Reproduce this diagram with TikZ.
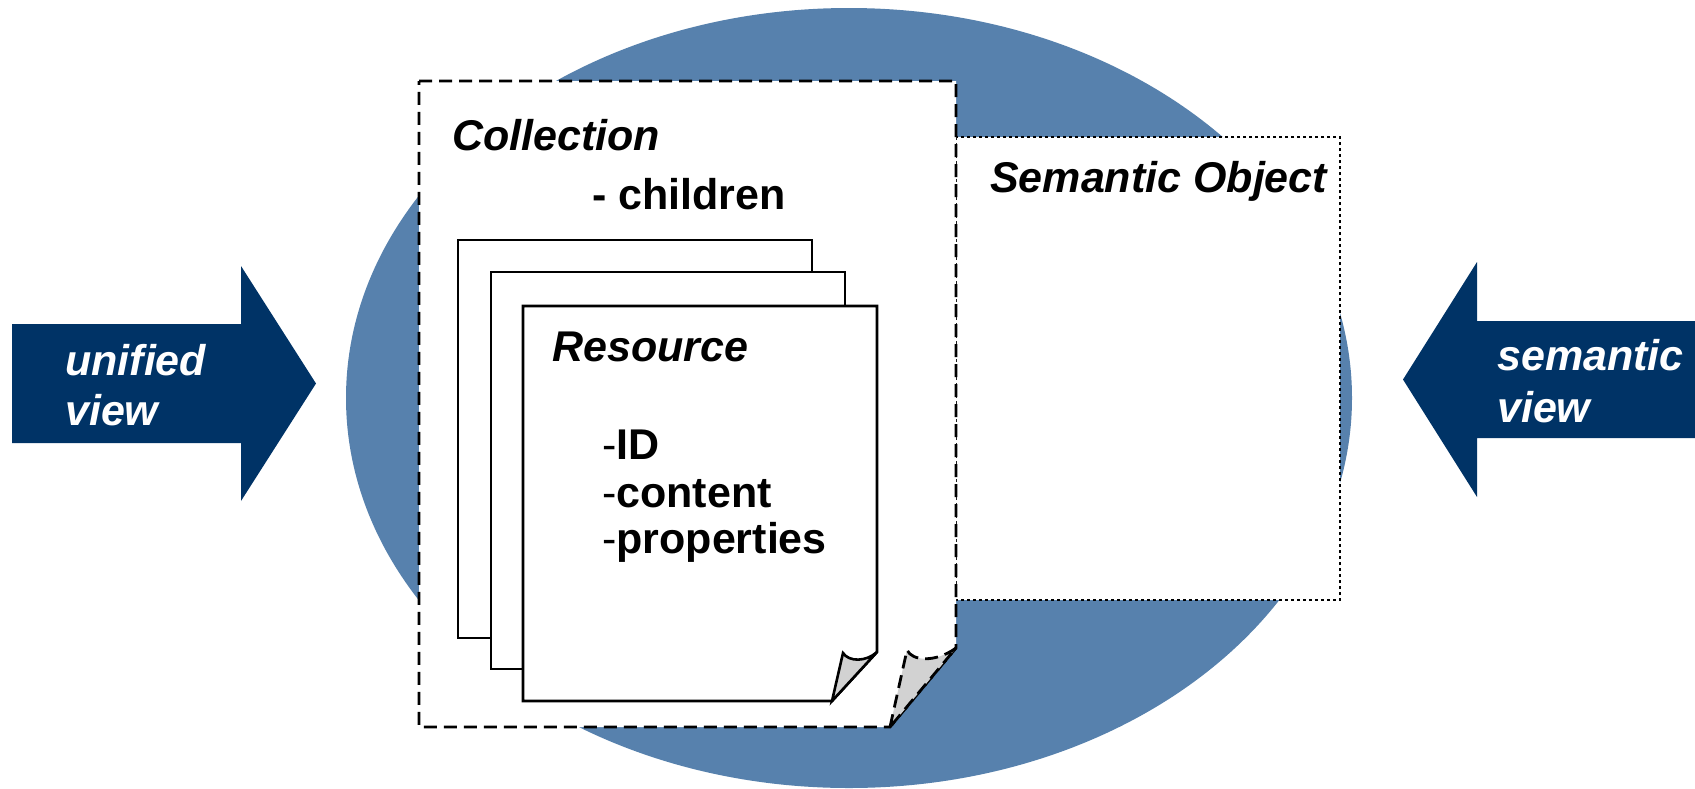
\documentclass[tikz,border=0pt]{standalone}
\usepackage{fontspec}
\setmainfont{Liberation Sans}

\definecolor{ovalblue}{RGB}{87,129,173}
\definecolor{navyblue}{RGB}{0,51,102}
\definecolor{flapgray}{RGB}{210,210,210}

\tikzset{
  title/.style={font=\fontsize{43}{48}\selectfont\bfseries\itshape, inner sep=0pt, anchor=base west},
  attr/.style={font=\fontsize{43}{48}\selectfont\bfseries, inner sep=0pt, anchor=base west},
  viewlabel/.style={title, text=white},
  dashedline/.style={line width=2.8pt, dash pattern=on 13pt off 7pt},
  dottedline/.style={line width=2.8pt, dash pattern=on 3pt off 3pt},
  sheet/.style={draw=black, line width=2.6pt, fill=white, line join=miter},
  bigarrow/.style={fill=navyblue, draw=none},
}

\begin{document}
\begin{tikzpicture}[x=1pt,y=-1pt]
  \useasboundingbox (0,0) rectangle (1695,788);

  % background oval
  \fill[ovalblue] (849,398) ellipse [x radius=503, y radius=390];

  % view arrows
  \fill[bigarrow] (12,324) -- (241,324) -- (241,266) -- (316,383.5)
        -- (241,501) -- (241,443) -- (12,443) -- cycle;
  \node[viewlabel] (unified1) at (65,375) {unified};
  \node[viewlabel] (unified2) at (65,425) {view};

  \fill[bigarrow] (1695,321) -- (1477,321) -- (1477,262) -- (1403,379.5)
        -- (1477,497) -- (1477,438) -- (1695,438) -- cycle;
  \node[viewlabel] (semantic1) at (1497,370) {semantic};
  \node[viewlabel] (semantic2) at (1497,422) {view};

  % semantic object box
  \draw[dottedline, fill=white] (956,137) rectangle (1340,600);
  \node[title] (semobj) at (990,192) {Semantic Object};

  % collection sheet with folded corner
  \draw[dashedline, fill=white] (419,81) -- (956,81) -- (956,648)
        -- (890,727) -- (419,727) -- cycle;
  \draw[dashedline, fill=flapgray] (890,727) -- (907,650)
        .. controls (912,661) and (935,663) .. (956,648) -- cycle;
  \node[title] (collection) at (452,150) {Collection};
  \node[attr] (children) at (592,209) {- children};

  % stacked resource sheets
  \draw[sheet] (458,240) rectangle (812,638);
  \draw[sheet] (491,272) rectangle (845,669);
  \draw[sheet] (523,306) -- (877,306) -- (877,652) -- (832,701)
        -- (523,701) -- cycle;
  \draw[sheet, fill=flapgray] (832,701) -- (843,653)
        .. controls (849,662) and (866,662) .. (877,652) -- cycle;

  \node[title] (resource) at (552,361) {Resource};
  \node[attr] (rid) at (602,459) {\mdseries-\bfseries ID};
  \node[attr] (rcontent) at (602,507) {\mdseries-\bfseries content};
  \node[attr] (rprops) at (602,553) {\mdseries-\bfseries properties};
\end{tikzpicture}
\end{document}
